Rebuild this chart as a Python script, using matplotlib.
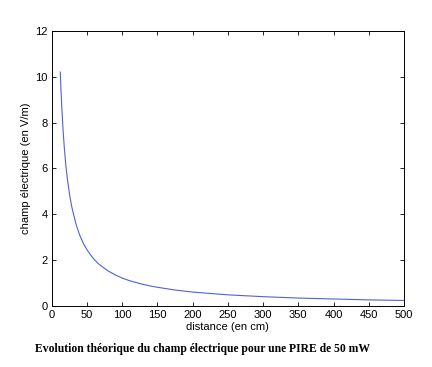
import matplotlib
matplotlib.use("Agg")
import matplotlib.pyplot as plt

# Valeurs (distance en cm, champ en V/m)
distance = [12, 13, 14, 15, 16, 17, 18, 20, 22, 25, 28, 30, 35, 40, 45, 50,
            55, 60, 65, 70, 80, 90, 100, 110, 125, 140, 150, 175, 200, 250,
            300, 350, 400, 450, 500]
champ = [10.2, 9.4, 8.75, 8.2, 7.65, 7.2, 6.8, 6.1, 5.57, 4.9, 4.37, 4.1,
         3.5, 3.06, 2.72, 2.45, 2.23, 2.04, 1.88, 1.75, 1.53, 1.36, 1.22,
         1.11, 0.98, 0.875, 0.82, 0.70, 0.61, 0.49, 0.41, 0.35, 0.31, 0.27,
         0.245]

xticks = [0, 50, 100, 150, 200, 250, 300, 350, 400, 450, 500]
yticks = [0, 2, 4, 6, 8, 10, 12]

plt.rcParams["font.family"] = ["Liberation Sans", "DejaVu Sans"]

fig = plt.figure(figsize=(4.32, 3.67), dpi=100)
ax = fig.add_axes([0.120, 0.166, 0.815, 0.750])

ax.plot(distance, champ, color="#5062d4", linewidth=0.8)

ax.set_xlim(0, 500)
ax.set_ylim(0, 12)
ax.set_xticks(xticks)
ax.set_yticks(yticks)
ax.tick_params(direction="in", top=True, right=True, length=3, width=0.6,
               labelsize=8, pad=3)
for s in ax.spines.values():
    s.set_linewidth(0.7)

ax.set_xlabel("distance (en cm)", fontsize=8, labelpad=1)
ax.set_ylabel("champ électrique (en V/m)", fontsize=8, labelpad=3)

fig.text(0.468, 0.049, "Evolution théorique du champ électrique pour une PIRE de 50 mW",
         ha="center", va="center", fontsize=8.4, fontweight="bold",
         family="Liberation Serif")

fig.savefig("out.png", dpi=100)
plt.close(fig)
